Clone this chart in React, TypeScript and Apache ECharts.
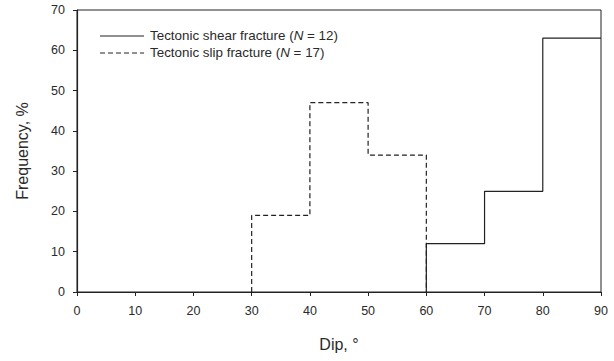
import React, { useEffect, useRef } from "react";
import * as echarts from "echarts";

const binEdgesShear = [60, 70, 80, 90];
const shearValues = [12, 25, 63];
const binEdgesSlip = [30, 40, 50, 60];
const slipValues = [19, 47, 34];
const shearLabel = ["Tectonic shear fracture (", "N", " = 12)"];
const slipLabel = ["Tectonic slip fracture (", "N", " = 17)"];

function stepPoints(edges: number[], vals: number[], closeEnd: boolean) {
  const pts: number[][] = [[edges[0], 0]];
  vals.forEach((v, i) => {
    pts.push([edges[i], v]);
    pts.push([edges[i + 1], v]);
  });
  if (closeEnd) pts.push([edges[edges.length - 1], 0]);
  return pts;
}

export default function App() {
  const ref = useRef<HTMLDivElement>(null);
  useEffect(() => {
    const chart = echarts.init(ref.current!, null, { renderer: "svg" });
    const font = "Liberation Sans, Arial, sans-serif";
    const txtColor = "#2a2a2a";
    const richText = (parts: string[]) => parts[0] + "{i|" + parts[1] + "}" + parts[2];
    const rich = {
      i: { fontStyle: "italic", fontFamily: font, fontSize: 13.4, fill: txtColor },
    };
    chart.setOption({
      animation: false,
      textStyle: { fontFamily: font },
      grid: {
        left: 77,
        right: 13,
        top: 10,
        bottom: 69,
        show: true,
        borderColor: "#222",
        borderWidth: 1,
      },
      graphic: [
        {
          type: "line",
          shape: { x1: 100, y1: 36, x2: 144, y2: 36 },
          style: { stroke: "#222", lineWidth: 1.2 },
        },
        {
          type: "text",
          left: 150,
          top: 29,
          style: {
            text: richText(shearLabel),
            fontFamily: font,
            fontSize: 13.4,
            fill: txtColor,
            rich,
          },
        },
        {
          type: "line",
          shape: { x1: 100, y1: 53, x2: 144, y2: 53 },
          style: { stroke: "#222", lineWidth: 1.2, lineDash: [5, 3] },
        },
        {
          type: "text",
          left: 150,
          top: 46,
          style: {
            text: richText(slipLabel),
            fontFamily: font,
            fontSize: 13.4,
            fill: txtColor,
            rich,
          },
        },
      ],
      xAxis: {
        type: "value",
        min: 0,
        max: 90,
        interval: 10,
        name: "Dip, °",
        nameLocation: "middle",
        nameGap: 44,
        nameTextStyle: { fontFamily: font, fontSize: 16, color: txtColor },
        axisLine: { lineStyle: { color: "#222", width: 1.2 } },
        axisTick: { length: 4, lineStyle: { color: "#222" } },
        axisLabel: { fontFamily: font, fontSize: 12.5, color: txtColor, margin: 12 },
        splitLine: { show: false },
      },
      yAxis: {
        type: "value",
        min: 0,
        max: 70,
        interval: 10,
        name: "Frequency, %",
        nameLocation: "middle",
        nameGap: 47,
        nameTextStyle: { fontFamily: font, fontSize: 16, color: txtColor },
        axisLine: { show: true, lineStyle: { color: "#222", width: 1.2 } },
        axisTick: { show: true, length: 4, lineStyle: { color: "#222" } },
        axisLabel: { fontFamily: font, fontSize: 12.5, color: txtColor, margin: 12 },
        splitLine: { show: false },
      },
      series: [
        {
          name: "shear",
          type: "line",
          symbol: "none",
          data: stepPoints(binEdgesShear, shearValues, false),
          lineStyle: { color: "#222", width: 1.2, type: "solid" },
        },
        {
          name: "slip",
          type: "line",
          symbol: "none",
          data: stepPoints(binEdgesSlip, slipValues, true),
          lineStyle: { color: "#222", width: 1.2, type: [5, 3] },
        },
      ],
    });
    return () => chart.dispose();
  }, []);
  return <div ref={ref} style={{ width: 614, height: 361, position: "absolute", left: 0, top: 0 }} />;
}
